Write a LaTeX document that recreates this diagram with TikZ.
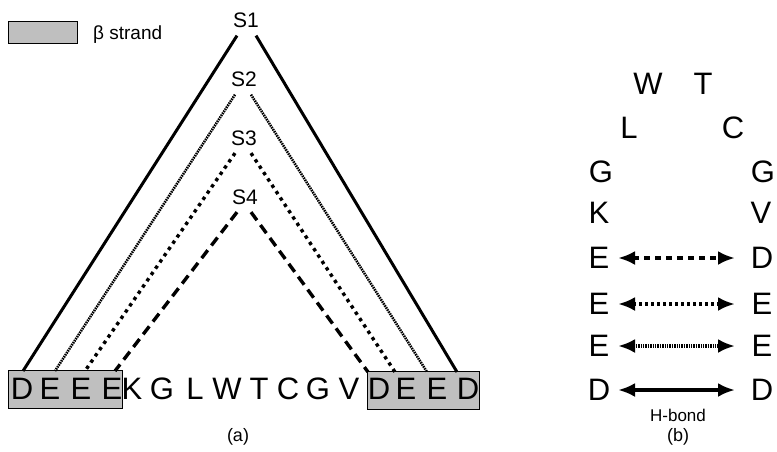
\documentclass[tikz,border=0pt]{standalone}
\usepackage{fontspec}
\setmainfont{Liberation Sans}
\usetikzlibrary{arrows.meta}
\begin{document}
\begin{tikzpicture}[x=1pt,y=-1pt,
  seq/.style={font=\fontsize{31}{31}\selectfont, inner sep=0pt, anchor=center},
  lab/.style={font=\fontsize{21}{21}\selectfont, inner sep=0pt},
  caplabel/.style={font=\fontsize{18}{18}\selectfont, inner sep=0pt},
  strandbox/.style={draw=black, line width=0.9pt, fill=black!25},
  solidln/.style={line width=3pt},
  finedot/.style={line width=2.6pt, dash pattern=on 1.5pt off 0.9pt},
  dotln/.style={line width=3.4pt, dash pattern=on 3.4pt off 4.2pt},
  dashln/.style={line width=3.4pt, dash pattern=on 10pt off 6pt},
  hb/.style={{Latex[length=17pt,width=14pt]}-{Latex[length=17pt,width=14pt]}},
]
\useasboundingbox (0,0) rectangle (777,451);

% legend
\node[strandbox, minimum width=69pt, minimum height=22pt, inner sep=0pt] (legbox) at (42.5,32) {};
\node[anchor=base west, inner sep=0pt, font=\fontsize{19}{19}\selectfont] (legtext) at (93,39) {β strand};

% strand boxes
\node[strandbox, minimum width=114pt, minimum height=38pt, inner sep=0pt] (boxl) at (65,389) {};
\node[strandbox, minimum width=112pt, minimum height=38pt, inner sep=0pt] (boxr) at (423,390) {};

% sequence
\node[seq] (q1) at (22,389) {D};
\node[seq] (q2) at (50,389) {E};
\node[seq] (q3) at (81,389) {E};
\node[seq] (q4) at (112,389) {E};
\node[seq] (q5) at (132,389) {K};
\node[seq] (q6) at (162,389) {G};
\node[seq] (q7) at (195,389) {L};
\node[seq] (q8) at (227,389) {W};
\node[seq] (q9) at (259,389) {T};
\node[seq] (q10) at (288,389) {C};
\node[seq] (q11) at (318,389) {G};
\node[seq] (q12) at (349,389) {V};
\node[seq] (q13) at (379,389) {D};
\node[seq] (q14) at (406,389) {E};
\node[seq] (q15) at (437,389) {E};
\node[seq] (q16) at (468,389) {D};

% S labels
\node[lab] (S1) at (246,20) {S1};
\node[lab] (S2) at (244,79) {S2};
\node[lab] (S3) at (244,138) {S3};
\node[lab] (S4) at (245,197) {S4};

% line ends on strand boxes
\coordinate (l1) at (23,371);
\coordinate (l2) at (55,371);
\coordinate (l3) at (85,371);
\coordinate (l4) at (115,371);
\coordinate (r4) at (368,372);
\coordinate (r3) at (395,372);
\coordinate (r2) at (427,372);
\coordinate (r1) at (457,372);

\draw[solidln] ([xshift=-9pt,yshift=-8pt]S1.south) -- (l1);
\draw[solidln] ([xshift=10pt,yshift=-8pt]S1.south) -- (r1);
\draw[finedot] ([xshift=-9pt,yshift=-8pt]S2.south) -- (l2);
\draw[finedot] ([xshift=7pt,yshift=-8pt]S2.south) -- (r2);
\draw[dotln] ([xshift=-9pt,yshift=-7.5pt]S3.south) -- (l3);
\draw[dotln] ([xshift=7pt,yshift=-7.5pt]S3.south) -- (r3);
\draw[dashln] ([xshift=-8pt,yshift=-7.5pt]S4.south) -- (l4);
\draw[dashln] ([xshift=6pt,yshift=-7.5pt]S4.south) -- (r4);

\node[caplabel] (capa) at (238,437) {(a)};

% panel b
\node[seq] (bW) at (648,84) {W};
\node[seq] (bT) at (703,84) {T};
\node[seq] (bL) at (629,128) {L};
\node[seq] (bC) at (733,128) {C};
\node[seq] (bG1) at (601,172) {G};
\node[seq] (bG2) at (763,172) {G};
\node[seq] (bK) at (599,213) {K};
\node[seq] (bV) at (761,213) {V};
\node[seq] (e1l) at (599,258) {E};
\node[seq] (e1r) at (762,258) {D};
\node[seq] (e2l) at (599,304) {E};
\node[seq] (e2r) at (762,304) {E};
\node[seq] (e3l) at (599,346) {E};
\node[seq] (e3r) at (762,346) {E};
\node[seq] (e4l) at (599,390) {D};
\node[seq] (e4r) at (762,390) {D};

\draw[hb, line width=3.8pt, dash pattern=on 6pt off 5pt] ([xshift=19pt]e1l.center) -- ([xshift=-27pt]e1r.center);
\draw[hb, line width=3.6pt, dash pattern=on 3pt off 3pt] ([xshift=19pt]e2l.center) -- ([xshift=-27pt]e2r.center);
\draw[hb, line width=3.6pt, dash pattern=on 1.5pt off 0.9pt] ([xshift=19pt]e3l.center) -- ([xshift=-27pt]e3r.center);
\draw[hb, line width=3.6pt] ([xshift=19pt]e4l.center) -- ([xshift=-27pt]e4r.center);

\node[font=\fontsize{17}{17}\selectfont, inner sep=0pt] (hbond) at (678,415) {H-bond};
\node[caplabel] (capb) at (678,437) {(b)};
\end{tikzpicture}
\end{document}
